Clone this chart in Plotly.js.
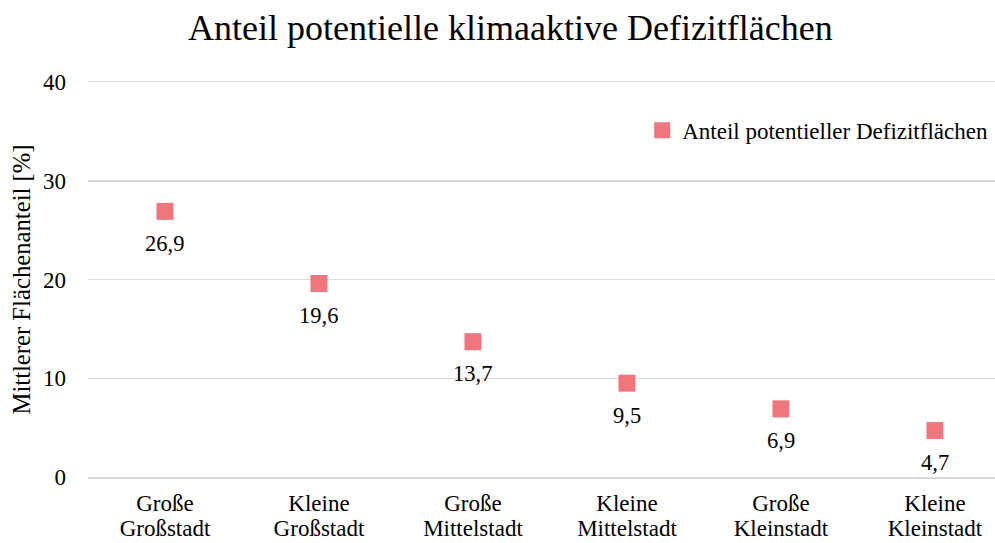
<!DOCTYPE html>
<html>
<head>
<meta charset="utf-8">
<script src="https://cdn.plot.ly/plotly-3.0.1.min.js"></script>
<style>html,body{margin:0;padding:0;background:#fff;}#chart{width:995px;height:543px;}</style>
</head>
<body>
<div id="chart"></div>
<script>
const categories = ["Große\nGroßstadt", "Kleine\nGroßstadt", "Große\nMittelstadt", "Kleine\nMittelstadt", "Große\nKleinstadt", "Kleine\nKleinstadt"];
const values = [26.9, 19.6, 13.7, 9.5, 6.9, 4.7];
const labels = ["26,9", "19,6", "13,7", "9,5", "6,9", "4,7"];
const seriesName = "Anteil potentieller Defizitflächen";
const yTicks = [0, 10, 20, 30, 40];

const font = "Liberation Serif, Times New Roman, serif";
const xs = categories.map((c, i) => i);
const line1 = categories.map(c => c.split("\n")[0]);
const line2 = categories.map(c => c.split("\n")[1]);
const trace = {
  x: xs,
  y: values,
  name: seriesName,
  type: "scatter",
  mode: "markers",
  marker: {symbol: "square", size: 17, color: "#F0767E"},
  cliponaxis: false
};
// helper trace (draws nothing) so the second-line category axis is rendered
const axisHelper = {
  x: xs, y: values, xaxis: "x2", yaxis: "y",
  type: "scatter", mode: "none", showlegend: false, hoverinfo: "skip"
};
const annotations = values.map((v, i) => ({
  x: xs[i], y: v, text: labels[i], showarrow: false,
  xanchor: "center", yanchor: "middle", yshift: -32,
  font: {family: font, size: 22.5, color: "#000"}
}));
const xRange = [-0.5, 5.39];
const layout = {
  width: 995, height: 543,
  margin: {l: 88, r: 0, t: 82, b: 66},
  paper_bgcolor: "#fff", plot_bgcolor: "#fff",
  font: {family: font, size: 23, color: "#000"},
  title: {text: "Anteil potentielle klimaaktive Defizitflächen", font: {family: font, size: 36, color: "#000"}, x: 0.513, xanchor: "center", y: 0.95, yanchor: "middle"},
  showlegend: true,
  legend: {x: 0.611, y: 0.878, xanchor: "left", yanchor: "middle", bgcolor: "rgba(0,0,0,0)", font: {family: font, size: 23, color: "#000"}, itemwidth: 30},
  annotations: annotations,
  xaxis: {
    range: xRange,
    tickmode: "array", tickvals: xs, ticktext: line1,
    showgrid: false, zeroline: false, ticks: "",
    showline: true, mirror: true, linecolor: "#d9d9d9", linewidth: 1.5,
    ticklabelstandoff: 5,
    tickfont: {family: font, size: 23, color: "#000"}
  },
  xaxis2: {
    range: xRange, overlaying: "x", anchor: "y", side: "bottom",
    tickmode: "array", tickvals: xs, ticktext: line2,
    showgrid: false, zeroline: false, showline: false,
    ticks: "outside", ticklen: 25, tickcolor: "rgba(0,0,0,0)",
    ticklabelstandoff: 5,
    tickfont: {family: font, size: 23, color: "#000"}
  },
  yaxis: {
    range: [0, 40], tickmode: "array", tickvals: yTicks, ticktext: yTicks.map(String),
    showgrid: true, gridcolor: "#d9d9d9", gridwidth: 1.5, zeroline: false, showline: false, ticks: "",
    ticklabelstandoff: 21,
    tickfont: {family: font, size: 23, color: "#000"},
    title: {text: "Mittlerer Flächenanteil [%]", font: {family: font, size: 24.7, color: "#000"}, standoff: 5}
  }
};
Plotly.newPlot("chart", [trace, axisHelper], layout, {displayModeBar: false, staticPlot: true});
</script>
</body>
</html>
